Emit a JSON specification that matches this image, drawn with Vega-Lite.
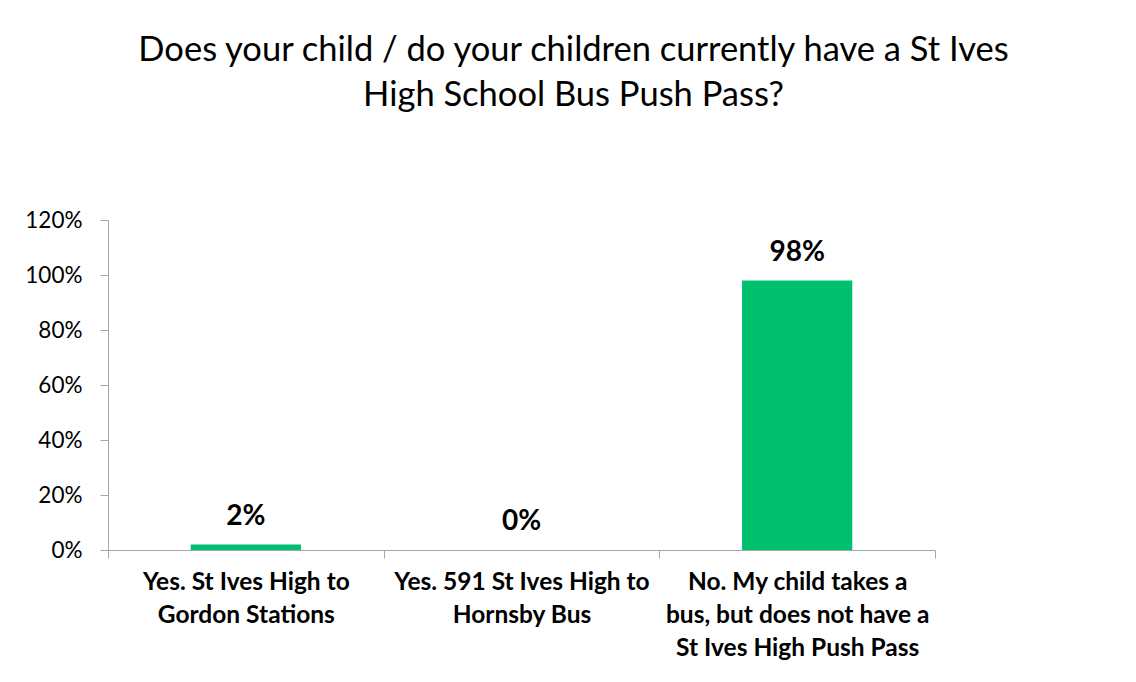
{
  "$schema": "https://vega.github.io/schema/vega-lite/v6.json",
  "width": 827,
  "height": 330,
  "autosize": {"type": "none"},
  "padding": {"left": 108, "top": 220, "right": 201, "bottom": 132},
  "background": "white",
  "title": {
    "text": ["Does your child / do your children currently have a St Ives", "High School Bus Push Pass?"],
    "font": "Lato",
    "fontSize": 34.5,
    "fontWeight": "normal",
    "color": "#000000",
    "lineHeight": 45,
    "anchor": "middle",
    "dx": 52,
    "offset": 96
  },
  "config": {
    "view": {"stroke": null},
    "font": "Lato"
  },
  "data": {
    "values": [
      {"option": "Yes. St Ives High to Gordon Stations", "share": 0.02},
      {"option": "Yes. 591 St Ives High to Hornsby Bus", "share": 0.0},
      {"option": "No. My child takes a bus, but does not have a St Ives High Push Pass", "share": 0.98}
    ]
  },
  "encoding": {
    "x": {
      "field": "option",
      "type": "nominal",
      "sort": null,
      "scale": {"paddingInner": 0, "paddingOuter": 0},
      "axis": {
        "title": null,
        "labelAngle": 0,
        "tickBand": "extent",
        "domainColor": "#a6a6a6",
        "tickColor": "#a6a6a6",
        "tickSize": 8,
        "labelFont": "Lato",
        "labelFontSize": 24.5,
        "labelFontWeight": "bold",
        "labelColor": "#000000",
        "labelLineHeight": 33,
        "labelPadding": 12,
        "labelBaseline": "top",
        "labelLimit": 300,
        "labelExpr": "datum.value == 'Yes. St Ives High to Gordon Stations' ? ['Yes. St Ives High to', 'Gordon Stations'] : datum.value == 'Yes. 591 St Ives High to Hornsby Bus' ? ['Yes. 591 St Ives High to', 'Hornsby Bus'] : datum.value == 'No. My child takes a bus, but does not have a St Ives High Push Pass' ? ['No. My child takes a', 'bus, but does not have a', 'St Ives High Push Pass'] : ''"
      }
    },
    "y": {
      "field": "share",
      "type": "quantitative",
      "scale": {"domain": [0, 1.2]},
      "axis": {
        "title": null,
        "format": ".0%",
        "values": [0, 0.2, 0.4, 0.6, 0.8, 1.0, 1.2],
        "grid": false,
        "domainColor": "#a6a6a6",
        "tickColor": "#a6a6a6",
        "tickSize": 8,
        "labelFont": "Lato",
        "labelFontSize": 22.5,
        "labelColor": "#000000",
        "labelPadding": 18
      }
    }
  },
  "layer": [
    {
      "mark": {"type": "bar", "color": "#00bf6f", "width": {"band": 0.4}}
    },
    {
      "mark": {"type": "text", "font": "Lato", "fontSize": 28, "fontWeight": "bold", "color": "#000000", "baseline": "bottom", "dy": -14},
      "encoding": {
        "text": {"field": "share", "type": "quantitative", "format": ".0%"}
      }
    }
  ]
}
